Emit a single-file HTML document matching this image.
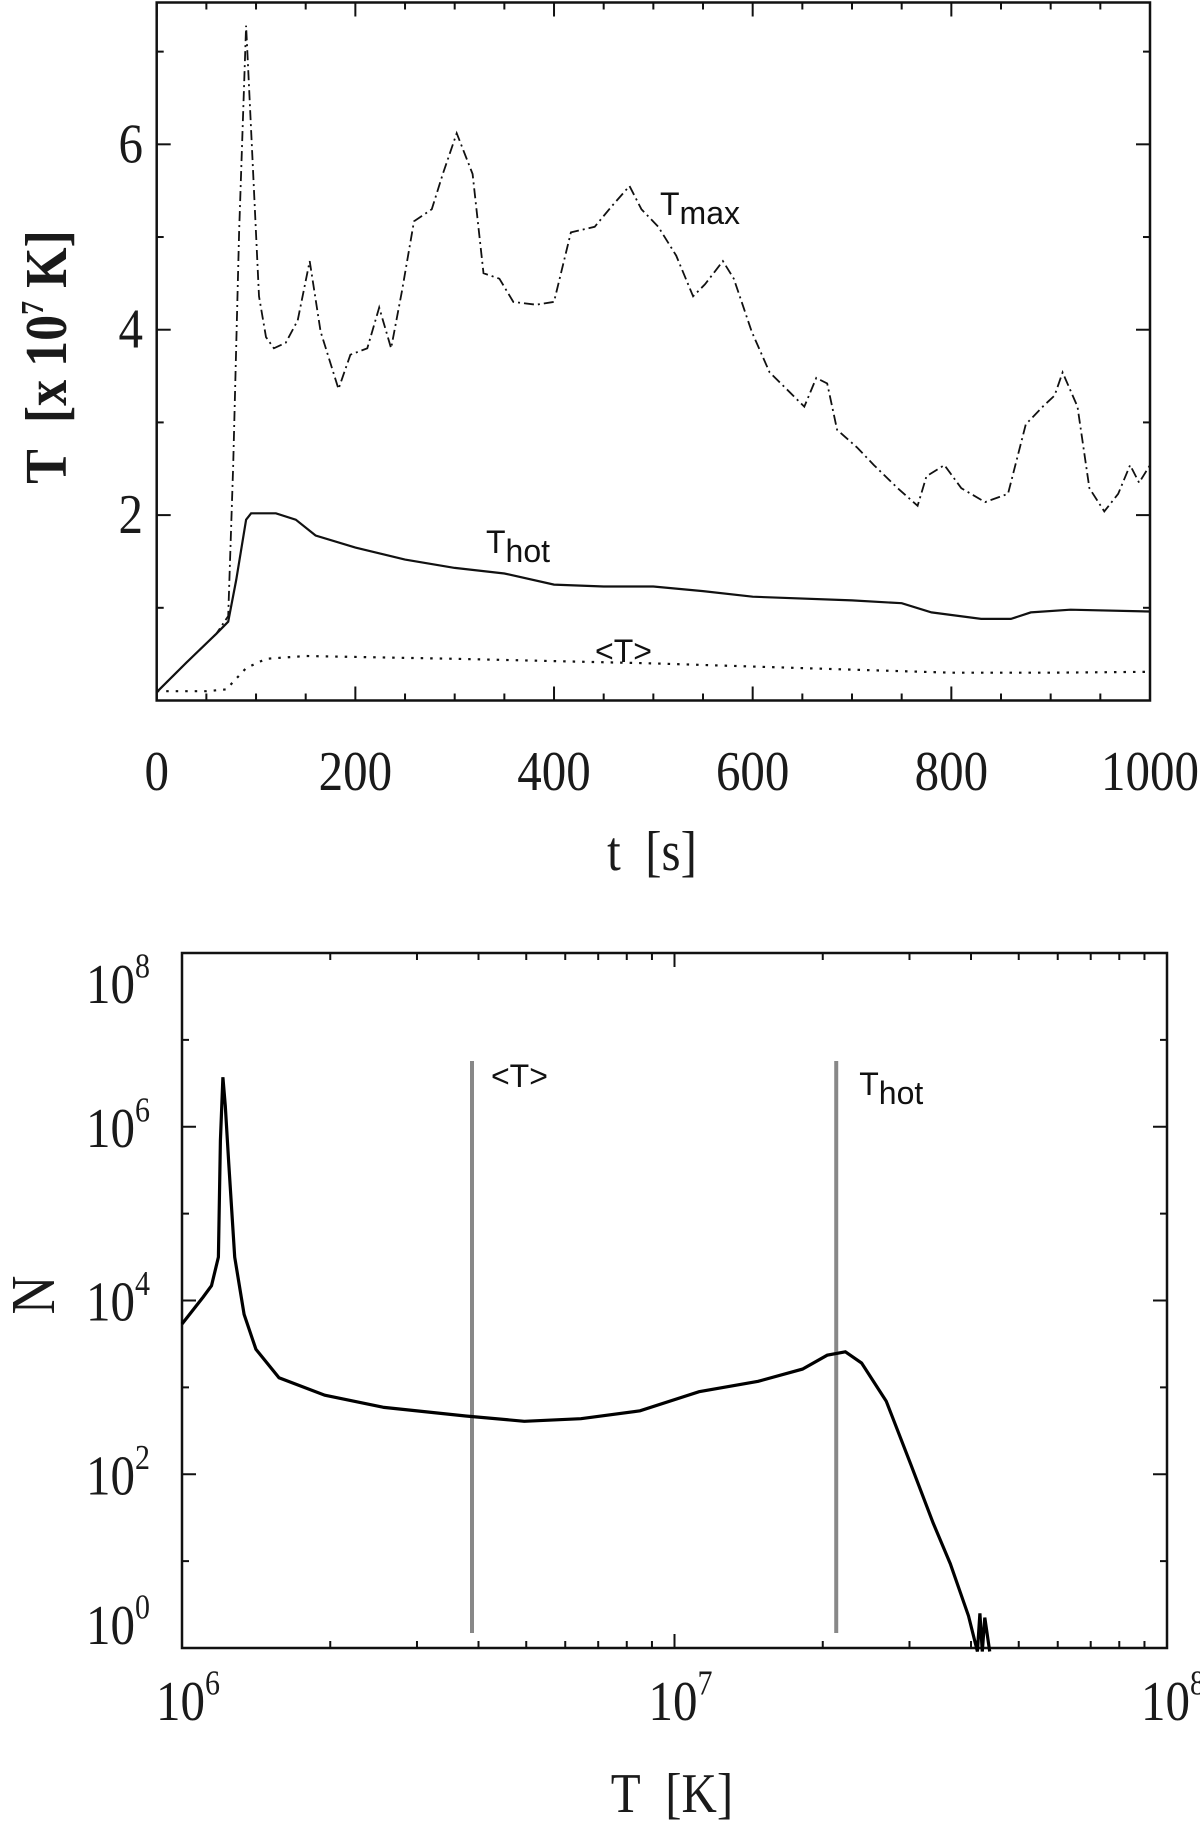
<!DOCTYPE html>
<html><head><meta charset="utf-8"><style>
html,body{margin:0;padding:0;background:#fff;}
svg{display:block;}
.tk{font-family:"Liberation Serif",serif;font-size:49px;fill:#1a1a1a;}
.lab{font-family:"Liberation Sans",sans-serif;font-size:32px;fill:#111;}
</style></head><body>
<svg id="fig" width="1200" height="1825" viewBox="0 0 1200 1825" xmlns="http://www.w3.org/2000/svg"></svg>
<script>
// ---- Top chart data ----
const tmaxT = [0,30,60,72,77,83,90,96,103,110,118,130,142,154,165,183,195,212,224,236,247,259,277,288,302,318,329,345,359,382,400,417,441,458,476,488,505,523,540,552,570,581,599,617,634,652,664,675,685,705,722,746,766,775,793,810,834,857,875,892,904,912,927,939,954,968,980,989,1000];
const tmaxV = [0.09,0.41,0.72,0.91,2.54,5.05,7.28,5.93,4.36,3.92,3.8,3.86,4.1,4.74,3.98,3.36,3.73,3.8,4.24,3.8,4.42,5.17,5.3,5.68,6.12,5.68,4.61,4.55,4.3,4.27,4.3,5.05,5.11,5.33,5.55,5.3,5.11,4.8,4.36,4.49,4.74,4.55,3.98,3.54,3.36,3.17,3.48,3.42,2.92,2.73,2.54,2.29,2.1,2.42,2.54,2.29,2.14,2.23,2.98,3.17,3.29,3.54,3.17,2.29,2.04,2.23,2.54,2.35,2.54];
const thotT = [0,30,60,72,80,90,95,120,140,160,200,250,300,350,400,450,500,550,600,700,750,780,830,860,880,920,1000];
const thotV = [0.09,0.41,0.72,0.85,1.3,1.95,2.02,2.02,1.95,1.78,1.65,1.52,1.43,1.37,1.25,1.23,1.23,1.18,1.12,1.08,1.05,0.95,0.88,0.88,0.95,0.98,0.96];
const tavgT = [0,50,70,90,110,150,300,500,650,800,900,1000];
const tavgV = [0.1,0.1,0.12,0.35,0.45,0.48,0.45,0.4,0.35,0.3,0.3,0.31];
const topXTicks = [0,200,400,600,800,1000];
const topYTicks = [2,4,6];
// ---- Bottom chart data (log10 T, log10 N) ----
const histLogT = [6.0,6.043,6.06,6.074,6.078,6.083,6.088,6.095,6.107,6.126,6.15,6.197,6.29,6.41,6.576,6.695,6.81,6.93,7.05,7.17,7.26,7.31,7.347,7.38,7.43,7.48,7.525,7.56,7.597,7.615,7.62,7.625,7.63,7.64];
const histLogN = [3.73,4.04,4.17,4.5,5.84,6.57,6.24,5.57,4.5,3.84,3.44,3.11,2.91,2.77,2.67,2.61,2.64,2.73,2.95,3.07,3.21,3.37,3.41,3.28,2.84,2.11,1.44,0.97,0.37,-0.04,0.4,-0.04,0.35,-0.04];
const markerNames = ["<T>","Thot"];
const markerT = [3.88e6,2.13e7];
const botXTickExp = [6,7,8];
const botYTickExp = [0,2,4,6,8];

const NS="http://www.w3.org/2000/svg";
const svg=document.getElementById('fig');
function mk(tag,attrs,parent){const e=document.createElementNS(NS,tag);for(const k in attrs)e.setAttribute(k,attrs[k]);(parent||svg).appendChild(e);return e;}
function stext(x,y,anchor,parent,rot){const tr='translate('+x+','+y+')'+(rot?' rotate(-90)':'')+' scale(1,1.15)';
 return mk('text',{x:0,y:0,'text-anchor':anchor,class:'tk',transform:tr},parent);}

// ---- Top axes ----
const TL=156.7,TR=1150,TT=2.5,TB=700.5,YMIN=0.0,YMAX=7.53;
const tx=t=>TL+(t/1000)*(TR-TL);
const ty=v=>TB-(v-YMIN)/(YMAX-YMIN)*(TB-TT);
const gTop=mk('g',{});


const fr1=mk('rect',{x:TL,y:TT,width:TR-TL,height:TB-TT,fill:'none',stroke:'#111','stroke-width':2.5},gTop);


for(let t=0;t<=1000;t+=50){const L=(t%200===0)?14:7;
 mk('line',{x1:tx(t),x2:tx(t),y1:TB,y2:TB-L,stroke:'#111','stroke-width':2},gTop);
 mk('line',{x1:tx(t),x2:tx(t),y1:TT,y2:TT+L,stroke:'#111','stroke-width':2},gTop);}
for(let v=1;v<=7;v++){const L=(v%2===0)?14:7;
 mk('line',{x1:TL,x2:TL+L,y1:ty(v),y2:ty(v),stroke:'#111','stroke-width':2},gTop);
 mk('line',{x1:TR,x2:TR-L,y1:ty(v),y2:ty(v),stroke:'#111','stroke-width':2},gTop);}
topXTicks.forEach(t=>{const e=stext(tx(t),790,'middle',gTop);e.textContent=t;
 
 });
topYTicks.forEach(v=>{const e=stext(143,ty(v)+18,'end',gTop);e.textContent=v;
 
 });
const xt1=stext(652,870,'middle',gTop);
xt1.innerHTML='t&#160;&#160;[s]';


const yt1=stext(66,357,'middle',gTop,true);
yt1.innerHTML='T&#160;&#160;[x 10<tspan dy="-20" font-size="28">7</tspan><tspan dy="20"> K]</tspan>';
yt1.style.fontWeight='bold';
yt1.style.fontSize='52px';


function pl(xs,ys,fx,fy,attrs,parent){return mk('polyline',Object.assign({points:xs.map((x,i)=>fx(x).toFixed(1)+','+fy(ys[i]).toFixed(1)).join(' '),fill:'none'},attrs),parent);}
const s1=pl(tmaxT,tmaxV,tx,ty,{stroke:'#111','stroke-width':1.8,'stroke-dasharray':'10,4,2,4'},gTop);


const s2=pl(thotT,thotV,tx,ty,{stroke:'#111','stroke-width':2.2},gTop);


const s3=pl(tavgT,tavgV,tx,ty,{stroke:'#111','stroke-width':2.2,'stroke-dasharray':'2.5,7'},gTop);


const l1=mk('text',{x:660,y:215,class:'lab'},gTop);l1.innerHTML='T<tspan dy="9">max</tspan>';


const l2=mk('text',{x:486,y:553,class:'lab'},gTop);l2.innerHTML='T<tspan dy="9">hot</tspan>';


const l3=mk('text',{x:595,y:662,class:'lab'},gTop);l3.textContent='<T>';



// ---- Bottom axes ----
const BL=182,BR=1167,BT=953,BB=1648;
const bx=lt=>BL+(lt-6)/2*(BR-BL);
const by=ln=>BB-ln/8*(BB-BT);
const gBot=mk('g',{});


const fr2=mk('rect',{x:BL,y:BT,width:BR-BL,height:BB-BT,fill:'none',stroke:'#111','stroke-width':2.5},gBot);


for(let d=6;d<8;d++)for(let m=1;m<=9;m++){const lt=d+Math.log10(m);const L=m===1?14:7;
 mk('line',{x1:bx(lt),x2:bx(lt),y1:BB,y2:BB-L,stroke:'#111','stroke-width':2},gBot);
 mk('line',{x1:bx(lt),x2:bx(lt),y1:BT,y2:BT+L,stroke:'#111','stroke-width':2},gBot);}
for(let e=1;e<8;e++){const L=(e%2===0)?14:7;
 mk('line',{x1:BL,x2:BL+L,y1:by(e),y2:by(e),stroke:'#111','stroke-width':2},gBot);
 mk('line',{x1:BR,x2:BR-L,y1:by(e),y2:by(e),stroke:'#111','stroke-width':2},gBot);}
botXTickExp.forEach(e=>{const t=stext(bx(e)+6,1720,'middle',gBot);
 t.innerHTML='10<tspan dy="-22" font-size="30">'+e+'</tspan>';
 
 });
botYTickExp.forEach(e=>{let yy=by(e)+20; if(e===8)yy=BT+50; if(e===0)yy=BB-4;
 const t=stext(150,yy,'end',gBot);
 t.innerHTML='10<tspan dy="-22" font-size="30">'+e+'</tspan>';
 
 });
const xt2=stext(672,1812,'middle',gBot);
xt2.innerHTML='T&#160;&#160;[K]';


const yt2=stext(54,1295,'middle',gBot,true);
yt2.textContent='N';
yt2.style.fontSize='54px';


markerT.forEach((v,i)=>{const x=bx(Math.log10(v));
 const ln=mk('line',{x1:x,x2:x,y1:1061,y2:1633,stroke:'#888','stroke-width':4},gBot);
 
 });
const h=pl(histLogT,histLogN,bx,by,{stroke:'#000','stroke-width':3.2,'stroke-linejoin':'miter'},gBot);


const b1=mk('text',{x:bx(Math.log10(markerT[0]))+19,y:1087,class:'lab'},gBot);b1.textContent=markerNames[0];


const b2=mk('text',{x:bx(Math.log10(markerT[1]))+23,y:1095,class:'lab'},gBot);b2.innerHTML='T<tspan dy="9">hot</tspan>';


</script>
</body></html>
